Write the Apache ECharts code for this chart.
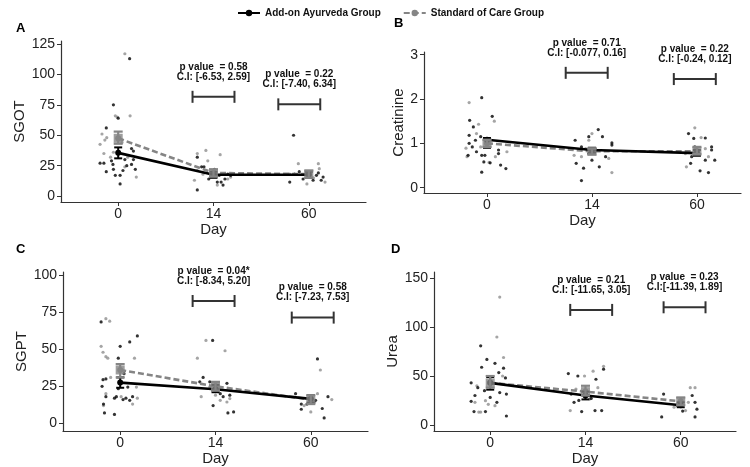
<!DOCTYPE html>
<html><head><meta charset="utf-8">
<script src="https://cdn.jsdelivr.net/npm/echarts@6/dist/echarts.min.js"></script>
<style>html,body{margin:0;padding:0;background:#fff}#c{width:750px;height:467px}</style>
</head><body><div id="c"></div>
<script>
// ---------- DATA ----------
const dayLabels = ['0', '14', '60'];
const groupNames = ['Add-on Ayurveda Group', 'Standard of Care Group'];
const panelLetters = ['A', 'B', 'C', 'D'];
const measureNames = ['SGOT', 'Creatinine', 'SGPT', 'Urea'];

// individual (jittered) observations: [day index + jitter, value]
const sgotAyurPts = [[0.12,113],[-0.05,75],[-0.125,56],[0,64],[-0.15,27],[-0.125,20],[-0.05,22],[0.02,10],[0.02,17],[0.09,25],[0.14,26],[0.16,30],[0.18,22],[-0.055,26],[-0.03,17],[0.07,30],[0.14,39],[0.16,37],[-0.07,29],[-0.19,27],[0.05,21],
  [0.83,5],[0.97,18],[1.01,22],[1.04,11.5],[1.08,11.5],[1.1,9],[1.15,18],[0.9,24],[0.83,32],[0.875,24],[1.18,17],[1.06,17],[0.95,14],[1.12,14],
  [1.84,50],[1.8,11.5],[1.85,18],[2.045,13],[2.08,17],[2.13,13],[2.15,15.6],[1.94,14],[1.9,20],[2.1,19]];
const sgotSocPts = [[0.07,117],[-0.03,66],[-0.01,65],[0.125,66],[-0.17,51],[-0.19,42.5],[-0.14,46],[-0.08,32],[-0.05,36],[0.19,15.6],[-0.15,35],[0.07,24],[0.1,32],[-0.12,48],[0.04,44],
  [0.83,35],[0.92,37.5],[1.07,34],[0.8,13],[1.04,9],[1.15,14],[0.94,29],[0.83,21],[1.18,15.6],[0.89,18],
  [1.89,26.6],[2.1,26.6],[1.8,18],[1.98,10],[2.11,22.5],[2.17,11.5],[2.05,15]];
const creatAyurPts = [[-0.05,2.03],[0.05,1.61],[-0.165,1.52],[-0.13,1.37],[-0.17,1.18],[-0.11,1.07],[-0.14,0.92],[-0.17,1.0],[-0.18,0.73],[-0.05,0.73],[-0.03,0.58],[-0.05,0.35],[0.03,0.56],[0.11,0.85],[0.13,0.51],[0.18,0.43],[0.11,0.77],[-0.02,0.73],[-0.06,1.15],[-0.1,0.81],
  [1.06,1.31],[1.1,1.15],[0.97,1.15],[0.84,1.07],[1.19,1.01],[0.9,0.92],[1.13,0.7],[0.85,0.55],[0.92,0.44],[0.9,0.16],[1.07,0.47],[1.0,0.62],[0.97,0.77],[1.03,0.88],[1.19,0.96],
  [1.92,1.22],[1.97,1.11],[2.08,1.12],[1.94,0.55],[1.95,0.7],[2.03,0.38],[2.11,0.34],[2.08,0.62],[2.14,0.92],[2.17,0.62],[2.14,0.85],[1.98,0.92]];
const creatSocPts = [[-0.17,1.92],[0.07,1.5],[-0.08,1.43],[-0.1,1.22],[-0.2,0.89],[-0.19,0.7],[0.02,0.57],[0.19,0.81],[0.08,0.7],[-0.06,0.92],[0.03,1.07],
  [1.0,1.22],[0.97,1.07],[0.83,0.73],[0.9,0.7],[1.03,0.81],[1.19,0.34],[1.16,0.66],[0.94,0.88],
  [1.98,1.35],[2.04,1.13],[1.89,0.77],[1.9,0.47],[2.08,0.88],[2.11,0.7]];
const sgptAyurPts = [[-0.2,68.5],[0.1,55],[0.18,59],[0,52],[-0.02,44],[-0.18,29.5],[-0.15,30],[-0.175,13],[-0.165,7],[-0.06,6],[-0.06,17],[-0.04,18],[0.03,16],[0.06,17],[0.1,15.5],[0.13,18],[-0.02,23.4],[-0.15,18],[0.08,24.5],[0.04,33.5],[-0.19,25],
  [0.97,56],[0.835,28],[0.87,31],[0.975,12],[1.13,7],[1.19,7.7],[1.15,19],[1.12,27],[1.08,18],[0.94,28],[1.02,22],[1.05,20],
  [2.07,43.5],[1.84,20],[1.9,13],[1.9,9.5],[2.12,10],[2.14,3.6],[2.18,18],[2.05,15.5],[1.96,13]];
const sgptSocPts = [[-0.15,70.7],[-0.11,69],[-0.2,52],[-0.18,48],[-0.15,45],[-0.13,44],[-0.1,31],[-0.175,12],[0.17,24.5],[0.15,44],[0.13,13],[0.18,17],[0.01,18],[-0.15,20],
  [0.9,56],[1.1,49],[0.81,44],[0.85,18],[1.05,15.5],[1.12,14.4],[1.15,16.7],[0.94,24.5],[1.0,19],
  [2.1,36],[2.22,16],[2.0,7.7],[2.07,20],[2.04,14.4],[1.93,12]];
const ureaAyurPts = [[-0.1,81],[-0.035,67],[-0.09,59],[0.05,63],[0.16,48],[-0.2,43],[-0.16,30],[-0.2,24],[-0.17,13.5],[-0.05,13.5],[0.17,9],[0.17,31.5],[0.1,33],[0.07,23],[0,28],[-0.06,35],[0.09,53.5],[0.14,58],[-0.13,38],
  [0.82,52.5],[0.92,50],[1.11,46.7],[1.19,57],[0.85,31.5],[0.88,23],[0.96,13.5],[1.1,14.6],[1.17,14.6],[1.03,30],[0.93,25],[1.06,27],
  [1.82,31.5],[1.8,8],[2.12,30],[2.15,23],[2.17,16],[2.15,8],[2.02,14],[1.96,20]];
const ureaSocPts = [[0.1,131],[0.07,90],[0.14,69],[-0.1,13],[-0.02,21],[0.05,19.6],[-0.05,24.7],[-0.16,23],[0.13,50],[-0.14,40],[-0.12,13],
  [0.99,50],[1.08,55],[1.19,60],[0.84,14.6],[1.045,26.4],[0.9,36.6],[1.13,38],
  [2.1,38],[2.15,38],[2.05,14.6],[2.08,23],[1.93,18]];

// group means per day
const sgotAyurMean = [35.5, 17.5, 17.5];
const sgotSocMean = [47.5, 19, 18];
const creatAyurMean = [1.08, 0.85, 0.78];
const creatSocMean = [1.0, 0.82, 0.82];
const sgptAyurMean = [27.5, 23, 16.5];
const sgptSocMean = [36, 25, 16];
const ureaAyurMean = [43, 30, 20];
const ureaSocMean = [43, 34, 24];

// error bars [low, high] per day
const sgotAyurErr = [[31,40],[15,20],[15,20]];
const sgotSocErr = [[43,53],[16,22],[15,21]];
const creatAyurErr = [[0.9,1.12],[0.78,0.9],[0.72,0.85]];
const creatSocErr = [[0.92,1.08],[0.75,0.88],[0.76,0.92]];
const sgptAyurErr = [[24,31],[21,26],[14,19]];
const sgptSocErr = [[31,40],[22,28],[13,19]];
const ureaAyurErr = [[36,49],[26,34],[18,23]];
const ureaSocErr = [[38,50],[30,40],[20,28]];

// annotations
const sgotPText = ['p value  = 0.58', 'p value  = 0.22'];
const sgotCIText = ['C.I: [-6.53, 2.59]', 'C.I: [-7.40, 6.34]'];
const creatPText = ['p value  = 0.71', 'p value  = 0.22'];
const creatCIText = ['C.I: [-0.077, 0.16]', 'C.I: [-0.24, 0.12]'];
const sgptPText = ['p value  = 0.04*', 'p value  = 0.58'];
const sgptCIText = ['C.I: [-8.34, 5.20]', 'C.I: [-7.23, 7.53]'];
const ureaPText = ['p value  = 0.21', 'p value  = 0.23'];
const ureaCIText = ['C.I: [-11.65, 3.05]', 'C.I:[-11.39, 1.89]'];
// bracket anchor [x, y] in data units
const sgotBracket = [[1.0, 81.6], [1.9, 75.4]];
const creatBracket = [[0.95, 2.59], [1.98, 2.45]];
const sgptBracket = [[0.98, 82.6], [2.02, 71.4]];
const ureaBracket = [[1.06, 117.8], [2.04, 120.5]];

// y tick labels
const sgotTicks = [0, 25, 50, 75, 100, 125];
const creatTicks = [0, 1, 2, 3];
const sgptTicks = [0, 25, 50, 75, 100];
const ureaTicks = [0, 50, 100, 150];

// ---------- LAYOUT ----------
const panels = [
  { ayurPts: sgotAyurPts, socPts: sgotSocPts, ayurMean: sgotAyurMean, socMean: sgotSocMean, ayurErr: sgotAyurErr, socErr: sgotSocErr,
    pText: sgotPText, ciText: sgotCIText, bracket: sgotBracket, ticks: sgotTicks,
    grid: {left: 61, top: 41, width: 305, height: 161}, x: [-0.6, 2.6], y: [-4.9, 127.5], nameGap: 33, hw: 0.22, letter: [16, 22] },
  { ayurPts: creatAyurPts, socPts: creatSocPts, ayurMean: creatAyurMean, socMean: creatSocMean, ayurErr: creatAyurErr, socErr: creatSocErr,
    pText: creatPText, ciText: creatCIText, bracket: creatBracket, ticks: creatTicks,
    grid: {left: 424, top: 52, width: 317, height: 141}, x: [-0.6, 2.42], y: [-0.12, 3.06], nameGap: 15, hw: 0.2, letter: [394, 17] },
  { ayurPts: sgptAyurPts, socPts: sgptSocPts, ayurMean: sgptAyurMean, socMean: sgptSocMean, ayurErr: sgptAyurErr, socErr: sgptSocErr,
    pText: sgptPText, ciText: sgptCIText, bracket: sgptBracket, ticks: sgptTicks,
    grid: {left: 63, top: 272, width: 305, height: 159}, x: [-0.6, 2.6], y: [-5.2, 102.2], nameGap: 30, hw: 0.22, letter: [16, 243] },
  { ayurPts: ureaAyurPts, socPts: ureaSocPts, ayurMean: ureaAyurMean, socMean: ureaSocMean, ayurErr: ureaAyurErr, socErr: ureaSocErr,
    pText: ureaPText, ciText: ureaCIText, bracket: ureaBracket, ticks: ureaTicks,
    grid: {left: 434, top: 272, width: 302, height: 160}, x: [-0.59, 2.58], y: [-6.4, 156.7], nameGap: 32, hw: 0.22, letter: [391, 243] }
];

const FONT = 'Liberation Sans';
const BLACK = '#000000';
const GREY = '#858585';
const AXIS = '#333333';

const grids = [], xAxes = [], yAxes = [], series = [], graphics = [];

function errRender(color, width, cap) {
  return function (params, api) {
    const x = api.value(0), lo = api.value(1), hi = api.value(2);
    const a = api.coord([x, lo]), b = api.coord([x, hi]);
    const st = {stroke: color, lineWidth: width};
    return {type: 'group', children: [
      {type: 'line', shape: {x1: a[0], y1: a[1], x2: b[0], y2: b[1]}, style: st},
      {type: 'line', shape: {x1: a[0] - cap, y1: a[1], x2: a[0] + cap, y2: a[1]}, style: st},
      {type: 'line', shape: {x1: b[0] - cap, y1: b[1], x2: b[0] + cap, y2: b[1]}, style: st}
    ]};
  };
}

panels.forEach((p, i) => {
  grids.push(Object.assign({containLabel: false}, p.grid));
  xAxes.push({
    type: 'value', gridIndex: i, min: p.x[0], max: p.x[1],
    name: 'Day', nameLocation: 'middle', nameGap: 20,
    nameTextStyle: {fontFamily: FONT, fontSize: 15, color: '#222'},
    splitLine: {show: false},
    axisLine: {show: true, onZero: false, lineStyle: {color: AXIS, width: 1.2}},
    axisTick: {show: true, length: 4, lineStyle: {color: AXIS}, customValues: [0, 1, 2]},
    axisLabel: {fontFamily: FONT, fontSize: 14, color: '#222', margin: 5, customValues: [0, 1, 2],
      formatter: v => dayLabels[Math.round(v)]}
  });
  yAxes.push({
    type: 'value', gridIndex: i, min: p.y[0], max: p.y[1],
    name: measureNames[i], nameLocation: 'middle', nameGap: p.nameGap,
    nameTextStyle: {fontFamily: FONT, fontSize: 15, color: '#222'},
    splitLine: {show: false},
    axisLine: {show: true, onZero: false, lineStyle: {color: AXIS, width: 1.2}},
    axisTick: {show: true, length: 4, lineStyle: {color: AXIS}, customValues: p.ticks},
    axisLabel: {fontFamily: FONT, fontSize: 14, color: '#222', margin: 6, customValues: p.ticks}
  });
  // raw jittered points
  series.push({type: 'scatter', xAxisIndex: i, yAxisIndex: i, data: p.socPts, symbolSize: 3.2,
    itemStyle: {color: '#8f8f8f'}, silent: true, z: 2});
  series.push({type: 'scatter', xAxisIndex: i, yAxisIndex: i, data: p.ayurPts, symbolSize: 3.2,
    itemStyle: {color: BLACK}, silent: true, z: 2});
  // mean lines
  series.push({type: 'line', name: groupNames[1], xAxisIndex: i, yAxisIndex: i,
    data: p.socMean.map((v, k) => [k, v]), symbol: 'circle', symbolSize: 6,
    itemStyle: {color: GREY}, lineStyle: {color: GREY, width: 2.6, type: [6, 3]}, z: 4});
  series.push({type: 'line', name: groupNames[0], xAxisIndex: i, yAxisIndex: i,
    data: p.ayurMean.map((v, k) => [k, v]), symbol: 'circle', symbolSize: 6,
    itemStyle: {color: BLACK}, lineStyle: {color: BLACK, width: 2.6}, z: 5});
  // error bars
  series.push({type: 'custom', xAxisIndex: i, yAxisIndex: i, z: 6,
    data: p.ayurErr.map((e, k) => [k, e[0], e[1]]), renderItem: errRender(BLACK, 2, 4), silent: true});
  series.push({type: 'custom', xAxisIndex: i, yAxisIndex: i, z: 7,
    data: p.socErr.map((e, k) => [k, e[0], e[1]]), renderItem: errRender(GREY, 2.2, 4.5), silent: true});
  // grey mean squares
  series.push({type: 'scatter', xAxisIndex: i, yAxisIndex: i, z: 8,
    data: p.socMean.map((v, k) => [k, v]), symbol: 'rect', symbolSize: 9,
    itemStyle: {color: GREY}, silent: true});
  // brackets + p-value text
  const hw = p.hw, pt = p.pText, ct = p.ciText;
  series.push({type: 'custom', xAxisIndex: i, yAxisIndex: i, z: 9, silent: true, clip: false,
    data: p.bracket.map((b, k) => [b[0], b[1], k]),
    renderItem: function (params, api) {
      const x = api.value(0), y = api.value(1), k = api.value(2);
      const a = api.coord([x - hw, y]), b = api.coord([x + hw, y]), c = api.coord([x, y]);
      const st = {stroke: '#333', lineWidth: 2};
      return {type: 'group', children: [
        {type: 'line', shape: {x1: a[0], y1: a[1], x2: b[0], y2: b[1]}, style: st},
        {type: 'line', shape: {x1: a[0], y1: a[1] - 6, x2: a[0], y2: a[1] + 6}, style: st},
        {type: 'line', shape: {x1: b[0], y1: b[1] - 6, x2: b[0], y2: b[1] + 6}, style: st},
        {type: 'text', style: {text: pt[k] + '\n' + ct[k], x: c[0], y: c[1] - 25,
          align: 'center', verticalAlign: 'middle', fill: '#111', lineHeight: 10,
          font: 'bold 10px "Liberation Sans"'}}
      ]};
    }});
  graphics.push({type: 'text', left: p.letter[0], top: p.letter[1],
    style: {text: panelLetters[i], font: 'bold 13px "Liberation Sans"', fill: '#000'}});
});

const chart = echarts.init(document.getElementById('c'), null, {renderer: 'canvas'});
chart.setOption({
  animation: false,
  backgroundColor: '#fff',
  legend: {data: groupNames, left: 232, top: 3, itemWidth: 22, itemHeight: 8, itemGap: 22,
    textStyle: {fontFamily: FONT, fontSize: 10, fontWeight: 'bold', color: '#111'}},
  grid: grids, xAxis: xAxes, yAxis: yAxes, series: series, graphic: graphics
});
</script></body></html>
